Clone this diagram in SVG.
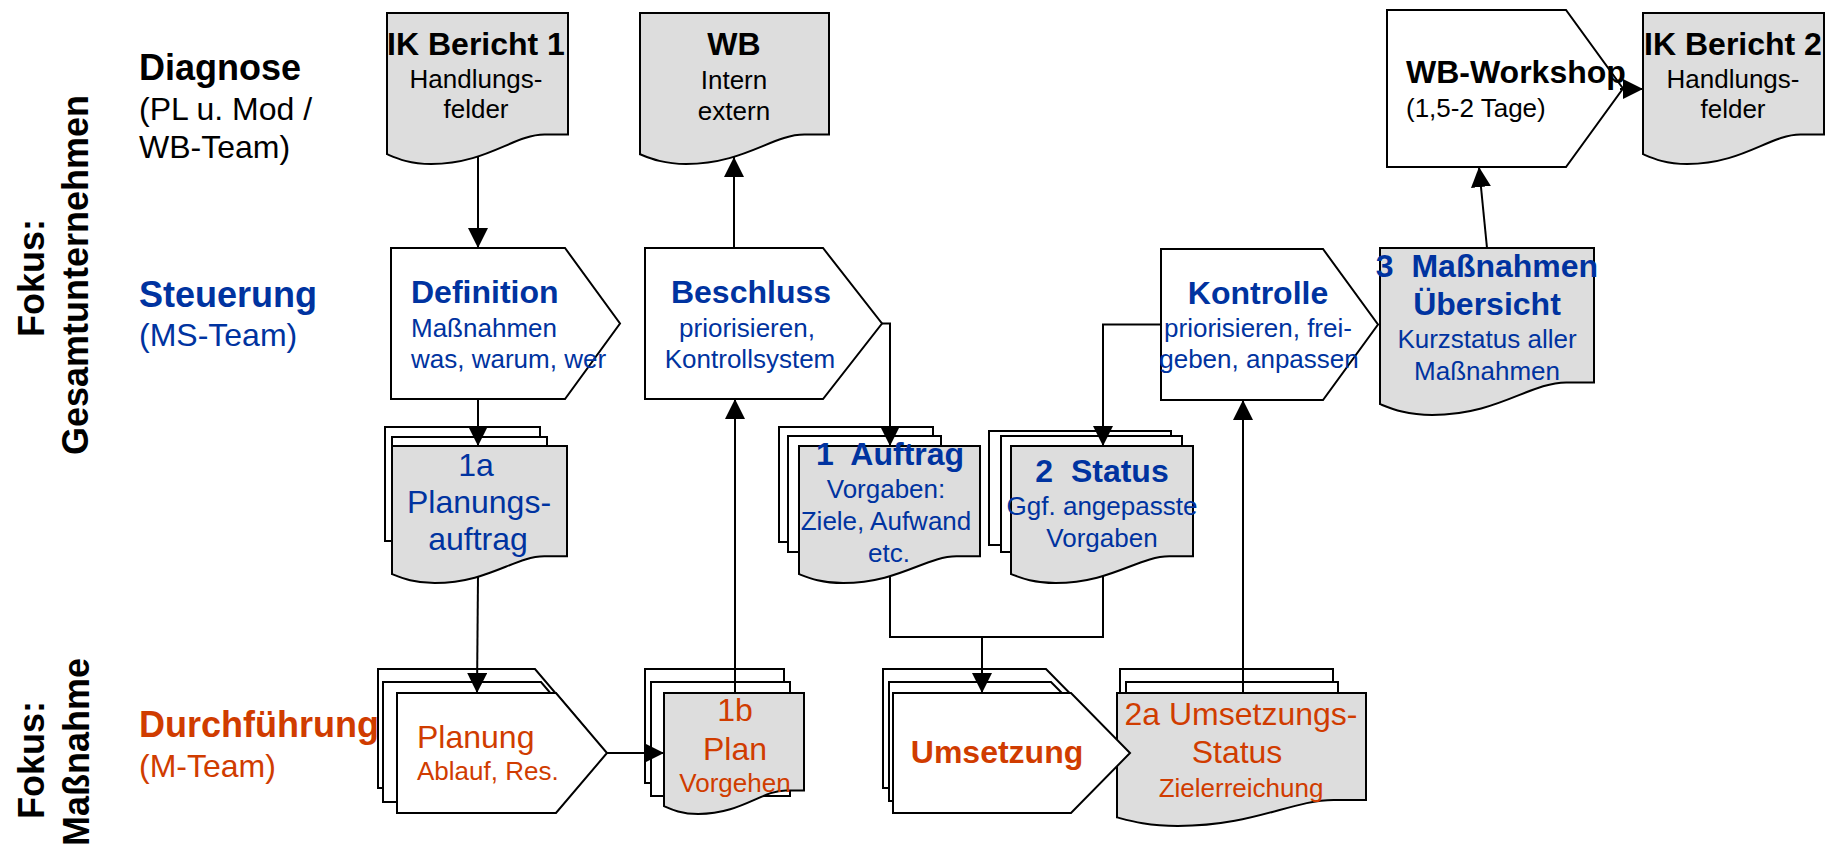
<svg xmlns="http://www.w3.org/2000/svg" width="1834" height="848" viewBox="0 0 1834 848">
<style>
text{font-family:"Liberation Sans",Arial,sans-serif;}
.b36{font-size:36px;font-weight:bold;}
.r32{font-size:32px;}
.b32{font-size:32px;font-weight:bold;}
.r26{font-size:26px;}
.blue{fill:#0033A0;}
.red{fill:#D03C00;}
.blk{fill:#000;}
.c{text-anchor:middle;}
.doc{fill:#DDDDDD;stroke:#000;stroke-width:2;}
.sheet{fill:#fff;stroke:#000;stroke-width:2;}
.proc{fill:#fff;stroke:#000;stroke-width:2;}
.con{fill:none;stroke:#000;stroke-width:2;}
.arr{marker-end:url(#ah);}
</style>
<defs>
<marker id="ah" markerUnits="userSpaceOnUse" markerWidth="20" markerHeight="20" refX="20" refY="10" orient="auto">
<path d="M0,0 L20,10 L0,20 Z" fill="#000"/>
</marker>
</defs>
<rect width="1834" height="848" fill="#fff"/>

<g id="labels">
<text class="b36 blk c" transform="translate(44,278) rotate(-90)">Fokus:</text>
<text class="b36 blk c" transform="translate(88,275) rotate(-90)">Gesamtunternehmen</text>
<text class="b36 blk c" transform="translate(44,760) rotate(-90)">Fokus:</text>
<text class="b36 blk c" transform="translate(89,752) rotate(-90)">Maßnahme</text>
<text class="b36 blk" x="139" y="80">Diagnose</text>
<text class="r32 blk" x="139" y="120">(PL u. Mod /</text>
<text class="r32 blk" x="139" y="158">WB-Team)</text>
<text class="b36 blue" x="139" y="307">Steuerung</text>
<text class="r32 blue" x="139" y="346">(MS-Team)</text>
</g>

<g id="ik1">
<path class="doc" d="M387,13 H568 V134.6 H544.5 C513.7,134.6 486.6,164 431.2,164 C408.7,164 396,158 387,154.2 Z"/>
<text class="b32 blk c" x="476" y="55">IK Bericht 1</text>
<text class="r26 blk c" x="476" y="88">Handlungs-</text>
<text class="r26 blk c" x="476" y="118">felder</text>
</g>

<g id="wb">
<path class="doc" d="M640,13 H829 V134.6 H804.4 C772.3,134.6 744,164 686.1,164 C662.7,164 649.5,158 640,154.2 Z"/>
<text class="b32 blk c" x="734" y="55">WB</text>
<text class="r26 blk c" x="734" y="89">Intern</text>
<text class="r26 blk c" x="734" y="120">extern</text>
</g>

<g id="wbworkshop">
<path class="proc" d="M1387,10 H1566 L1623,88.5 L1566,167 H1387 Z"/>
<text class="b32 blk" x="1406" y="83">WB-Workshop</text>
<text class="r26 blk" x="1406" y="117">(1,5-2 Tage)</text>
</g>

<g id="ik2">
<path class="doc" d="M1643,13 H1824 V134.6 H1800.5 C1769.7,134.6 1742.6,164 1687.2,164 C1664.7,164 1652,158 1643,154.2 Z"/>
<text class="b32 blk c" x="1733" y="55">IK Bericht 2</text>
<text class="r26 blk c" x="1733" y="88">Handlungs-</text>
<text class="r26 blk c" x="1733" y="118">felder</text>
</g>

<g id="definition">
<path class="proc" d="M391,248 H565 L620,323.5 L565,399 H391 Z"/>
<text class="b32 blue" x="411" y="303">Definition</text>
<text class="r26 blue" x="411" y="337">Maßnahmen</text>
<text class="r26 blue" x="411" y="368">was, warum, wer</text>
</g>

<g id="beschluss">
<path class="proc" d="M645,248 H823 L882,323.5 L823,399 H645 Z"/>
<text class="b32 blue c" x="751" y="303">Beschluss</text>
<text class="r26 blue c" x="747" y="337">priorisieren,</text>
<text class="r26 blue c" x="750" y="368">Kontrollsystem</text>
</g>

<g id="kontrolle">
<path class="proc" d="M1161,249 H1323 L1378,324.5 L1323,400 H1161 Z"/>
<text class="b32 blue c" x="1258" y="304">Kontrolle</text>
<text class="r26 blue c" x="1258" y="337">priorisieren, frei-</text>
<text class="r26 blue c" x="1259" y="368">geben, anpassen</text>
</g>

<g id="massnahmen">
<path class="doc" d="M1380,248 H1594 V382.4 H1566.2 C1529.8,382.4 1497.7,415 1432.2,415 C1405.7,415 1390.7,408.3 1380,404.1 Z"/>
<text class="b32 blue c" x="1487" y="277" xml:space="preserve">3  Maßnahmen</text>
<text class="b32 blue c" x="1487" y="315">Übersicht</text>
<text class="r26 blue c" x="1487" y="348">Kurzstatus aller</text>
<text class="r26 blue c" x="1487" y="380">Maßnahmen</text>
</g>

<g id="planungsauftrag">
<rect class="sheet" x="385" y="427" width="155" height="114"/>
<rect class="sheet" x="392" y="437" width="155" height="113"/>
<path class="doc" d="M392,446 H567 V556.3 H544.3 C514.5,556.3 488.3,583 434.7,583 C413,583 400.8,577.5 392,574.1 Z"/>
<text class="r32 blue c" x="476" y="476">1a</text>
<text class="r32 blue c" x="479" y="513">Planungs-</text>
<text class="r32 blue c" x="478" y="550">auftrag</text>
</g>

<g id="auftrag">
<rect class="sheet" x="779" y="427" width="154" height="115"/>
<rect class="sheet" x="788" y="436" width="153" height="116"/>
<path class="doc" d="M799,446 H980 V556.3 H956.5 C925.7,556.3 898.6,583 843.2,583 C820.7,583 808,577.5 799,574.1 Z"/>
<text class="b32 blue c" x="890" y="465" xml:space="preserve">1  Auftrag</text>
<text class="r26 blue c" x="886" y="498">Vorgaben:</text>
<text class="r26 blue c" x="886" y="530">Ziele, Aufwand</text>
<text class="r26 blue c" x="889" y="562">etc.</text>
</g>

<g id="status">
<rect class="sheet" x="989" y="431" width="182" height="114"/>
<rect class="sheet" x="1001" y="436" width="181" height="116"/>
<path class="doc" d="M1011,446 H1193 V556.3 H1169.3 C1138.4,556.3 1111.1,583 1055.4,583 C1032.8,583 1020.1,577.5 1011,574.1 Z"/>
<text class="b32 blue c" x="1102" y="482" xml:space="preserve">2  Status</text>
<text class="r26 blue c" x="1102" y="515">Ggf. angepasste</text>
<text class="r26 blue c" x="1102" y="547">Vorgaben</text>
</g>

<g id="durchfuehrung-label">
<text class="b36 red" x="139" y="737">Durchführung</text>
<text class="r32 red" x="139" y="777">(M-Team)</text>
</g>

<g id="planung">
<path class="sheet" d="M378,669 H535 L585.6,728.5 L535,788 H378 Z"/>
<path class="sheet" d="M383,682 H541 L592,742 L541,802 H383 Z"/>
<path class="proc" d="M397,693 H556 L607,753 L556,813 H397 Z"/>
<text class="r32 red" x="417" y="748">Planung</text>
<text class="r26 red" x="417" y="780">Ablauf, Res.</text>
</g>

<g id="plan">
<rect class="sheet" x="645" y="669" width="139" height="114"/>
<rect class="sheet" x="651" y="682" width="139" height="114"/>
<path class="doc" d="M664,693 H804 V790.4 H785.8 C762,790.4 741,814 698.2,814 C680.8,814 671,809.2 664,806.1 Z"/>
<text class="r32 red c" x="735" y="721">1b</text>
<text class="r32 red c" x="735" y="760">Plan</text>
<text class="r26 red c" x="735" y="792">Vorgehen</text>
</g>

<g id="umsetzungsstatus">
<rect class="sheet" x="1120" y="669" width="213" height="115"/>
<rect class="sheet" x="1126" y="682" width="212" height="115"/>
<path class="doc" d="M1117,693 H1366 V800.1 H1333.6 C1291.3,800.1 1254,826 1177.8,826 C1146.9,826 1129.5,820.7 1117,817.4 Z"/>
<text class="r32 red c" x="1241" y="725">2a Umsetzungs-</text>
<text class="r32 red c" x="1237" y="763">Status</text>
<text class="r26 red c" x="1241" y="797">Zielerreichung</text>
</g>

<g id="umsetzung">
<path class="sheet" d="M883,669 H1046 L1104.5,728.5 L1046,788 H883 Z"/>
<path class="sheet" d="M889,682 H1051 L1110,741.5 L1051,801 H889 Z"/>
<path class="proc" d="M893,693 H1071 L1130,753 L1071,813 H893 Z"/>
<text class="b32 red c" x="997" y="763">Umsetzung</text>
</g>

<g id="connectors">
<path class="con arr" d="M478,156 V248"/>
<path class="con arr" d="M478,399 V446"/>
<path class="con arr" d="M478,576 L477,693"/>
<path class="con arr" d="M607,753 H664"/>
<path class="con arr" d="M735,693 V399"/>
<path class="con arr" d="M734,248 V157"/>
<path class="con arr" d="M882,323.5 H890 V446"/>
<path class="con arr" d="M1161,324.5 H1103 V446"/>
<path class="con" d="M890,576 V637 H1103 V576"/>
<path class="con arr" d="M982,637 V693"/>
<path class="con arr" d="M1243,693 V400"/>
<path class="con arr" d="M1487,248 L1479,167"/>
<path class="con arr" d="M1620,89 H1643"/>
</g>
</svg>
